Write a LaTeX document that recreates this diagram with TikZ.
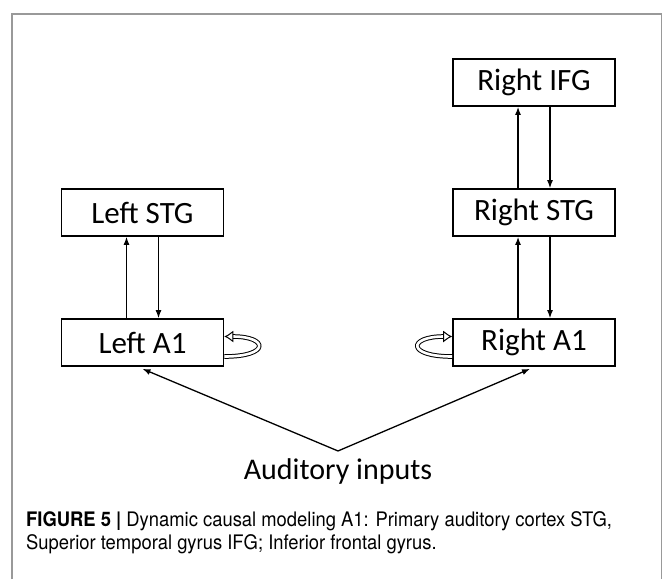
\documentclass[tikz,border=0pt]{standalone}
\usepackage{fontspec}
\setmainfont{Carlito}
\newfontfamily\capfont[FakeStretch=0.92]{TeX Gyre Heros}
\usepackage{tikz}
\usetikzlibrary{arrows.meta,positioning}

\tikzset{
  region/.style={draw, line width=1.7pt, minimum width=162pt, minimum height=47pt,
    inner sep=0pt, font=\fontsize{31}{31}\selectfont},
  link/.style={line width=1.3pt, -{Latex[length=8pt,width=6pt]}},
  selfloop/.style={line width=1pt, double, double distance=2.6pt,
    -{Latex[open,length=9pt,width=12pt]}},
  framegray/.style={draw=black!40, line width=1.4pt}
}

\begin{document}
\begin{tikzpicture}[x=1pt,y=-1pt]
\useasboundingbox (0,0) rectangle (663,579);
\draw[framegray] (12,579) -- (12,14) -- (661.5,14) -- (661.5,579);
\foreach \name/\x/\y/\label in {
  lstg/142.5/212.5/{Left STG},
  la1/142.5/342.5/{Left A1},
  rifg/534/82.5/{Right IFG},
  rstg/534/212.5/{Right STG},
  ra1/534/342.5/{Right A1}
} {
  \node[region] (\name) at (\x,\y) {\label};
}
\node[anchor=base, inner sep=7pt, font=\fontsize{30}{30}\selectfont] (inputs) at (338,479) {Auditory inputs};
% forward and backward connections
\foreach \lo/\hi in {la1/lstg, ra1/rstg, rstg/rifg} {
  \draw[link] ([xshift=-16pt]\lo.north) -- ([xshift=-16pt]\hi.south);
  \draw[link] ([xshift=16pt]\hi.south) -- ([xshift=16pt]\lo.north);
}
\draw[link] (inputs.north) -- ([yshift=-2pt]la1.south);
\draw[link] (inputs.north) -- ([xshift=-4pt,yshift=-2pt]ra1.south);
% intrinsic connections
\draw[selfloop] ([yshift=-14pt]la1.east) .. controls +(46,0) and +(44,0) .. ([yshift=6pt]la1.east);
\draw[selfloop] ([yshift=-14pt]ra1.west) .. controls +(-46,0) and +(-44,0) .. ([yshift=6pt]ra1.west);
\node[anchor=base west, align=left, inner sep=0pt,
  font=\capfont\fontsize{20}{22.5}\selectfont] (caption) at (26,549)
  {\textbf{FIGURE 5 |} Dynamic causal modeling A1: Primary auditory cortex STG,\\
   Superior temporal gyrus IFG; Inferior frontal gyrus.};
\end{tikzpicture}
\end{document}
